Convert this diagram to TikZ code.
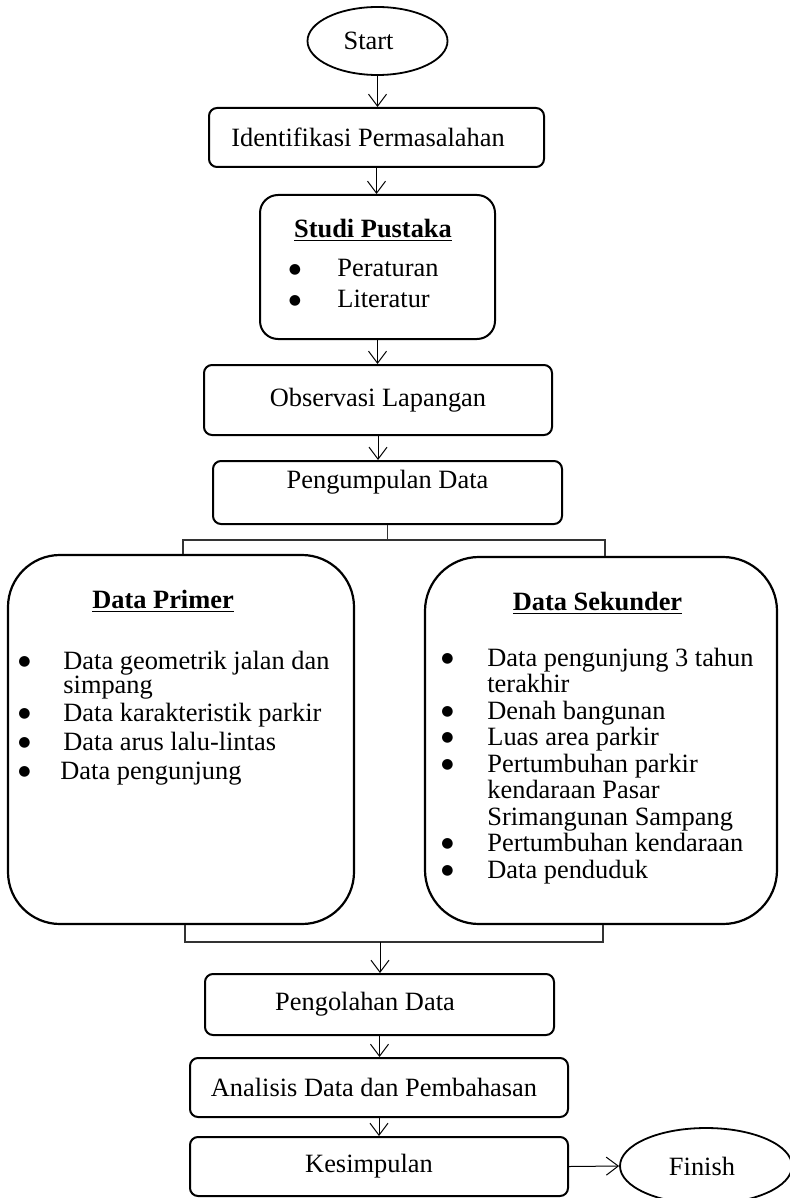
\documentclass[tikz,border=0pt]{standalone}
\usepackage{fontspec}
\setmainfont{Liberation Serif}
\newfontfamily\symfont{DejaVu Sans}
\usetikzlibrary{arrows.meta,shapes.geometric}

\tikzset{
  box/.style={draw,line width=1pt,rounded corners=4pt,inner sep=0pt},
  bigbox/.style={draw,line width=1.1pt,rounded corners=26pt,inner sep=0pt},
  oval/.style={draw,ellipse,line width=0.9pt,inner sep=0pt},
  txt/.style={inner sep=0pt},
  arr/.style={-{Straight Barb[length=6pt,width=9pt]},line width=0.5pt},
  link/.style={line width=0.6pt,black!80}
}
\newcommand{\bul}{\raisebox{1.9pt}{\symfont\fontsize{7}{7}\selectfont ●}}

\begin{document}
\begin{tikzpicture}[x=0.5pt,y=-0.5pt,font=\fontsize{13.2}{14}\selectfont]
\useasboundingbox (0,0) rectangle (790,1198);

% main column
\node[oval,minimum width=70pt,minimum height=34pt] (start) at (377.5,41) {Start\hspace*{9pt}};
\node[box,minimum width=167.5pt,minimum height=29.5pt] (ident) at (376.5,137.5) {Identifikasi Permasalahan\hspace*{8.5pt}};
\node[box,rounded corners=9pt,minimum width=117.5pt,minimum height=72pt] (studi) at (377.5,267) {};
\node[txt,anchor=base] (studititle) at (373,237) {\underline{\textbf{Studi Pustaka}}};
\node[txt,anchor=base west] (studilist) at (288.5,277) {%
  \begin{tabular}[t]{@{}p{24.25pt}@{}l@{}}
  \bul & Peraturan\\[1.5pt]
  \bul & Literatur
  \end{tabular}};
\node[box,minimum width=174pt,minimum height=35pt] (obs) at (378,400) {Observasi Lapangan};
\node[box,minimum width=174.5pt,minimum height=31.5pt,text depth=13.5pt] (peng) at (387.5,492.5) {Pengumpulan Data};

% data boxes
\node[bigbox,minimum width=173pt,minimum height=184.5pt] (primer) at (181,739.5) {};
\node[txt,anchor=base] (primertitle) at (163,608) {\underline{\textbf{Data Primer}}};
\node[txt,anchor=base west] (primerlist) at (18,669) {%
  \begin{tabular}[t]{@{}p{22.5pt}@{}l@{}}
  \bul & Data geometrik jalan dan\\[-2pt]
   & simpang\\[0pt]
  \bul & Data karakteristik parkir\\[0.5pt]
  \bul & Data arus lalu-lintas\\[0.5pt]
  \bul & \hspace*{-1.5pt}Data pengunjung
  \end{tabular}};
\node[bigbox,rounded corners=27pt,minimum width=176pt,minimum height=183.5pt] (sekunder) at (601,740.5) {};
\node[txt,anchor=base] (sekundertitle) at (597.5,610) {\underline{\textbf{Data Sekunder}}};
\node[txt,anchor=base west] (sekunderlist) at (441,666) {%
  \begin{tabular}[t]{@{}p{23pt}@{}l@{}}
  \bul & Data pengunjung 3 tahun\\[-0.75pt]
   & terakhir\\[-0.75pt]
  \bul & Denah bangunan\\[-0.75pt]
  \bul & Luas area parkir\\[-0.75pt]
  \bul & Pertumbuhan parkir\\[-0.75pt]
   & kendaraan Pasar\\[-0.75pt]
   & Srimangunan Sampang\\[-0.75pt]
  \bul & Pertumbuhan kendaraan\\[-0.75pt]
  \bul & Data penduduk
  \end{tabular}};

% lower column
\node[box,minimum width=174.5pt,minimum height=30.5pt] (olah) at (379.5,1004.5) {Pengolahan Data\hspace*{14.5pt}};
\node[box,minimum width=189pt,minimum height=29.5pt] (analisis) at (379,1087.5) {Analisis Data dan Pembahasan\hspace*{5pt}};
\node[box,minimum width=189pt,minimum height=29.5pt] (simpul) at (379,1166.5) {Kesimpulan\hspace*{10pt}};
\node[oval,minimum width=86pt,minimum height=38pt] (finish) at (706,1166) {Finish\hspace*{4pt}};

% arrows
\draw[arr] (start.south) -- (start.south |- ident.north);
\draw[arr] (ident.south) -- (ident.south |- studi.north);
\draw[arr] (studi.south) -- (studi.south |- obs.north);
\draw[arr] (obs.south) -- (obs.south |- peng.north);

% split and join
\coordinate (split) at (387,540);
\coordinate (splitL) at (183,540);
\coordinate (splitR) at (605,540);
\draw[link] (peng.south) -- (peng.south |- split);
\draw[link] (splitL |- primer.north) -- (splitL) -- (splitR) -- (splitR |- sekunder.north);

\coordinate (join) at (380,942);
\coordinate (joinL) at (185,942);
\coordinate (joinR) at (603,942);
\draw[link] (joinL |- primer.south) -- (joinL) -- (joinR) -- (joinR |- sekunder.south);
\draw[arr] (join) -- (join |- olah.north);

\draw[arr] (olah.south) -- (olah.south |- analisis.north);
\draw[arr] (analisis.south) -- (analisis.south |- simpul.north);
\draw[arr] (simpul.east) -- (finish.west);
\end{tikzpicture}
\end{document}
